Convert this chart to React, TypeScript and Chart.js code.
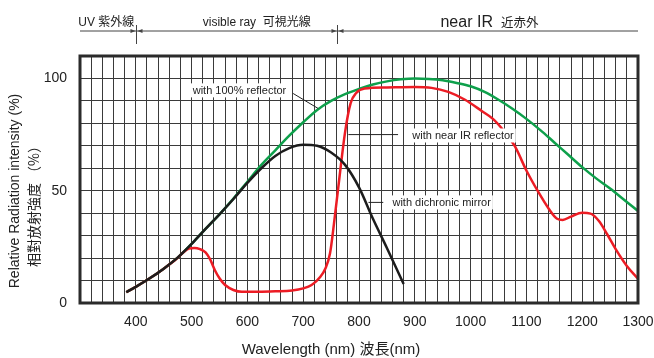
import React, { useEffect, useRef } from "react";
import { Chart, registerables } from "chart.js";

Chart.register(...registerables);

// ---- data ----
const blackWl = [383, 400, 425, 450, 475, 500, 525, 550, 575, 600, 625, 650, 675, 700, 725, 750, 775, 800, 825, 850, 880];
const blackVal = [4.8, 7.2, 11, 15.3, 20.2, 26.3, 33, 39.5, 46.3, 53.5, 60, 65.5, 69, 70.5, 70, 67, 61.5, 51.5, 37.5, 24.5, 8.5];

const greenWl = [383, 400, 425, 450, 475, 500, 525, 550, 575, 600, 625, 650, 675, 700, 725, 750, 775, 800, 825, 850, 875, 900, 925, 950, 975, 1000, 1025, 1050, 1075, 1100, 1125, 1150, 1175, 1200, 1225, 1250, 1275, 1300];
const greenVal = [4.8, 7.2, 11, 15.3, 20.2, 26.3, 33, 39.5, 46.5, 54, 61.5, 68, 74.5, 80.5, 86, 90, 93, 95.3, 97.3, 98.7, 99.6, 100, 99.8, 99.2, 98, 96.5, 94, 90.5, 86.5, 82, 77, 71.5, 66, 60.5, 55.5, 51, 46, 41];

const redWl = [383, 400, 425, 450, 473, 485, 495, 505, 515, 525, 533, 542, 550, 560, 575, 590, 620, 650, 680, 700, 715, 730, 740, 748, 755, 765, 775, 785, 795, 810, 850, 900, 930, 960, 990, 1020, 1040, 1060, 1080, 1100, 1120, 1140, 1155, 1165, 1180, 1200, 1215, 1230, 1245, 1260, 1280, 1300];
const redVal = [4.8, 7.2, 11, 15.3, 19.7, 22.5, 24.2, 24.5, 24, 22.5, 19.5, 14.5, 11, 8, 5.8, 5.0, 5.0, 5.2, 5.6, 6.5, 8, 11.5, 15.5, 22, 35, 56, 76, 89, 93.5, 95.5, 96, 96.2, 95.8, 94, 90.5, 85.5, 82, 76.5, 69.5, 59, 50, 42, 37.5, 37, 38.5, 40.2, 39.8, 36.5, 30.5, 24, 16.5, 10.8];

const xTickLabels = [400, 500, 600, 700, 800, 900, 1000, 1100, 1200, 1300];
const yTickLabels = [0, 50, 100];

// band boundaries (nm)
const bandMarks = [400, 760];

const FONT = "'Liberation Sans', Arial, 'Noto Sans CJK JP', sans-serif";
const CJK = "'Noto Sans CJK JP', 'Liberation Sans', sans-serif";
const INK = "#222";

function pts(xs: number[], ys: number[]) {
  return xs.map((x, i) => ({ x, y: ys[i] }));
}

function labelBox(ctx: CanvasRenderingContext2D, text: string, x: number, y: number) {
  ctx.font = `11px ${FONT}`;
  const w = ctx.measureText(text).width;
  ctx.fillStyle = "#fff";
  ctx.fillRect(x - 2, y - 7, w + 4, 14);
  ctx.fillStyle = INK;
  ctx.textBaseline = "middle";
  ctx.textAlign = "left";
  ctx.fillText(text, x, y + 0.5);
}

function line(ctx: CanvasRenderingContext2D, x1: number, y1: number, x2: number, y2: number, w = 1) {
  ctx.beginPath();
  ctx.lineWidth = w;
  ctx.moveTo(x1, y1);
  ctx.lineTo(x2, y2);
  ctx.stroke();
}

const overlay = {
  id: "overlay",
  afterDraw(chart: any) {
    const { ctx, chartArea: ca, scales } = chart;
    const xs = scales.x;
    const ys = scales.y;
    const px = (v: number) => xs.getPixelForValue(v);
    const py = (v: number) => ys.getPixelForValue(v);
    ctx.save();

    // frame
    ctx.strokeStyle = "#2b2b2b";
    ctx.lineWidth = 3;
    ctx.strokeRect(ca.left, ca.top, ca.right - ca.left, ca.bottom - ca.top);

    // annotations
    ctx.strokeStyle = INK;
    labelBox(ctx, "with 100% reflector", px(502), py(94.7));
    line(ctx, px(682), py(93.3), px(727), py(86.6));
    labelBox(ctx, "with near IR reflector", px(895.5), py(74.6));
    line(ctx, px(781), py(75), px(870), py(75));
    labelBox(ctx, "with dichronic mirror", px(860), py(44.8));
    line(ctx, px(817), py(44.8), px(843.5), py(44.8));

    // top band
    const bandY = 31;
    ctx.strokeStyle = "#444";
    line(ctx, px(300), bandY, px(1300), bandY, 1);
    for (const m of bandMarks) {
      const mx = Math.round(px(m)) + 0.5;
      line(ctx, mx, 25, mx, 44, 1);
      ctx.fillStyle = "#444";
      ctx.beginPath();
      ctx.moveTo(mx - 1, bandY);
      ctx.lineTo(mx - 6, bandY - 2);
      ctx.lineTo(mx - 6, bandY + 2);
      ctx.closePath();
      ctx.fill();
      ctx.beginPath();
      ctx.moveTo(mx + 1, bandY);
      ctx.lineTo(mx + 6, bandY - 2);
      ctx.lineTo(mx + 6, bandY + 2);
      ctx.closePath();
      ctx.fill();
    }
    ctx.fillStyle = INK;
    ctx.textBaseline = "alphabetic";
    ctx.textAlign = "left";
    ctx.font = `12px ${FONT}`;
    ctx.fillText("UV 紫外線", px(297), 26);
    ctx.fillText("visible ray  可視光線", px(520), 26);
    ctx.font = `16px ${FONT}`;
    ctx.fillText("near IR", px(946), 26.5);
    const nw = ctx.measureText("near IR").width;
    ctx.font = `12.5px ${CJK}`;
    ctx.fillText("近赤外", px(946) + nw + 8, 26.5);

    // axis titles
    ctx.fillStyle = INK;
    ctx.textAlign = "center";
    ctx.textBaseline = "middle";
    ctx.font = `15px ${FONT}`;
    ctx.fillText("Wavelength (nm) 波長(nm)", 331, 350);

    ctx.save();
    ctx.translate(15.5, 191);
    ctx.rotate(-Math.PI / 2);
    ctx.font = `14px ${FONT}`;
    ctx.fillText("Relative Radiation intensity (%)", 0, 0);
    ctx.restore();
    ctx.save();
    ctx.translate(33.5, 203);
    ctx.rotate(-Math.PI / 2);
    ctx.font = `14px 'Noto Sans CJK TC', ${CJK}`;
    ctx.fillText("相對放射強度 （%）", 0, 0);
    ctx.restore();

    ctx.restore();
  },
};

export default function App() {
  const ref = useRef<HTMLCanvasElement | null>(null);
  useEffect(() => {
    document.body.style.margin = "0";
    const canvas = ref.current;
    if (!canvas) return;
    const chart = new Chart(canvas, {
      type: "line",
      data: {
        datasets: [
          {
            label: "with dichronic mirror",
            data: pts(blackWl, blackVal),
            borderColor: "#1c1c1c",
            borderWidth: 2.5,
            pointRadius: 0,
            cubicInterpolationMode: "monotone",
            fill: false,
          },
          {
            label: "with near IR reflector",
            data: pts(redWl, redVal),
            borderColor: "#ec1c24",
            borderWidth: 2.5,
            pointRadius: 0,
            cubicInterpolationMode: "monotone",
            fill: false,
          },
          {
            label: "with 100% reflector",
            data: pts(greenWl, greenVal),
            borderColor: "#0ea04b",
            borderWidth: 2.5,
            pointRadius: 0,
            cubicInterpolationMode: "monotone",
            fill: false,
          },
        ],
      },
      options: {
        responsive: false,
        animation: false,
        devicePixelRatio: 1,
        layout: { padding: { top: 56, right: 16, left: 0, bottom: 0 } },
        plugins: { legend: { display: false }, tooltip: { enabled: false } },
        scales: {
          x: {
            type: "linear",
            min: 300,
            max: 1300,
            afterFit: (s: any) => {
              s.height = 55;
              s.paddingLeft = 0;
              s.paddingRight = 0;
            },
            ticks: {
              stepSize: 20,
              autoSkip: false,
              maxRotation: 0,
              padding: 11,
              color: INK,
              font: { family: FONT, size: 14 },
              callback: (v: any) => (xTickLabels.includes(Number(v)) ? String(v) : ""),
            },
            grid: { color: "#3a3a3a", lineWidth: 1, drawTicks: false },
            border: { display: false },
          },
          y: {
            type: "linear",
            min: 0,
            max: 110,
            afterFit: (s: any) => {
              s.width = 80;
              s.paddingTop = 0;
              s.paddingBottom = 0;
            },
            ticks: {
              stepSize: 10,
              autoSkip: false,
              padding: 13,
              color: INK,
              font: { family: FONT, size: 14 },
              callback: (v: any) => (yTickLabels.includes(Number(v)) ? String(v) : ""),
            },
            grid: { color: "#3a3a3a", lineWidth: 1, drawTicks: false },
            border: { display: false },
          },
        },
      },
      plugins: [overlay],
    });
    return () => chart.destroy();
  }, []);
  return (
    <div style={{ width: 654, height: 358, background: "#fff" }}>
      <canvas ref={ref} width={654} height={358} style={{ display: "block" }} />
    </div>
  );
}
